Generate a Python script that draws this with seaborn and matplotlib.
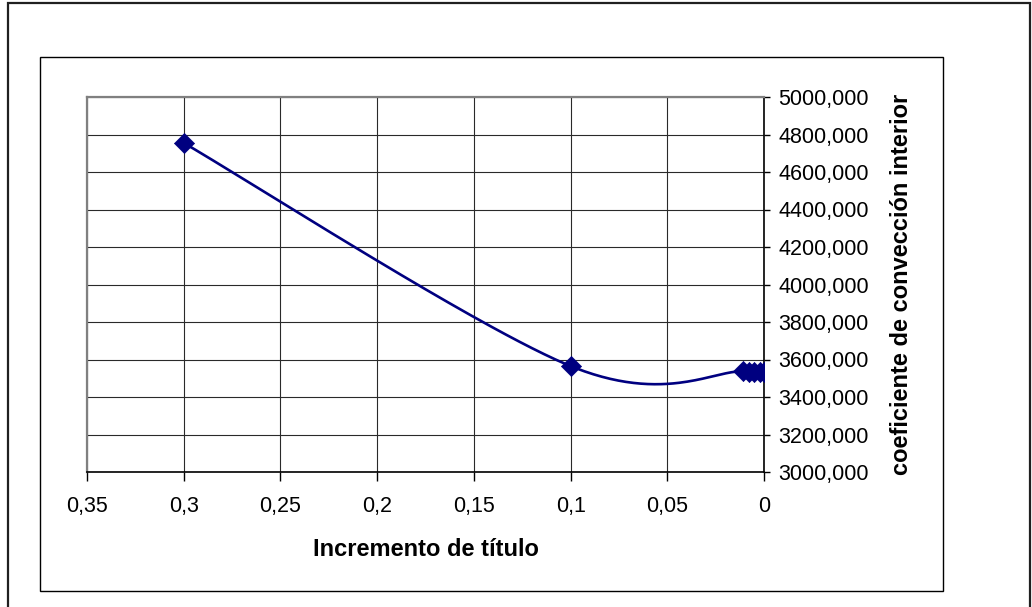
import numpy as np
import pandas as pd
import matplotlib
matplotlib.use("Agg")
import matplotlib.pyplot as plt
from matplotlib.patches import Rectangle
from matplotlib.ticker import FuncFormatter, MultipleLocator
import seaborn as sns

# Measured points: quality increment vs. inner convection coefficient
titulo = [0.3, 0.1, 0.011, 0.008, 0.005, 0.002, 0.0]
coef = [4755, 3565, 3537, 3536, 3535, 3534, 3533]

x_ticks = [0.35, 0.3, 0.25, 0.2, 0.15, 0.1, 0.05, 0.0]
y_ticks = [3000, 3200, 3400, 3600, 3800, 4000, 4200, 4400, 4600, 4800, 5000]

x_label = "Incremento de título"
y_label = "coeficiente de convección interior"

NAVY = "#000080"

sns.set_theme(style="white")
plt.rcParams["font.family"] = ["Liberation Sans", "DejaVu Sans"]


def smooth_curve(xs, ys, n=60):
    """Cubic Bezier smoothing through the points (Catmull-Rom style controls)."""
    pts = np.column_stack([xs, ys]).astype(float)
    out = []
    m = len(pts)
    for i in range(m - 1):
        p0 = pts[i - 1] if i > 0 else pts[i]
        p1 = pts[i]
        p2 = pts[i + 1]
        p3 = pts[i + 2] if i + 2 < m else pts[i + 1]
        c1 = p1 + (p2 - p0) / 6.0
        c2 = p2 - (p3 - p1) / 6.0
        t = np.linspace(0, 1, n)[:, None]
        seg = ((1 - t) ** 3) * p1 + 3 * ((1 - t) ** 2) * t * c1 \
            + 3 * (1 - t) * t ** 2 * c2 + t ** 3 * p2
        out.append(seg if i == 0 else seg[1:])
    return np.vstack(out)


W, H = 1032, 607
fig = plt.figure(figsize=(W / 100, H / 100), dpi=100)
fig.patch.set_facecolor("white")

# Chart frames
fig.add_artist(Rectangle((8 / W, 1 - 612 / H), (1030 - 8) / W, (612 - 3) / H,
                         transform=fig.transFigure, fill=False,
                         edgecolor="#202020", linewidth=1.6))
fig.add_artist(Rectangle((40 / W, 1 - 591 / H), (943 - 40) / W, (591 - 57) / H,
                         transform=fig.transFigure, fill=False,
                         edgecolor="black", linewidth=1.0))

left, right, top, bottom = 87, 764, 97, 472
ax = fig.add_axes([left / W, 1 - bottom / H, (right - left) / W, (bottom - top) / H])
ax.set_facecolor("white")

curve = smooth_curve(titulo, coef)
curve_df = pd.DataFrame({"x": curve[:, 0], "y": curve[:, 1]})
sns.lineplot(data=curve_df, x="x", y="y", sort=False, estimator=None,
             color=NAVY, linewidth=1.9, ax=ax, zorder=3)

points_df = pd.DataFrame({"titulo": titulo, "coef": coef})
sns.scatterplot(data=points_df, x="titulo", y="coef", marker="D", s=105,
                color=NAVY, edgecolor=NAVY, linewidth=0.5, ax=ax, zorder=4)

ax.set_xlim(0.35, 0.0)
ax.set_ylim(3000, 5000)
ax.xaxis.set_major_locator(MultipleLocator(0.05))
ax.yaxis.set_major_locator(MultipleLocator(200))
ax.set_xticks(x_ticks)
ax.set_yticks(y_ticks)
ax.xaxis.set_major_formatter(FuncFormatter(lambda v, p: f"{v:g}".replace(".", ",")))
ax.yaxis.set_major_formatter(FuncFormatter(lambda v, p: f"{v:.3f}".replace(".", ",")))

ax.yaxis.tick_right()
ax.yaxis.set_label_position("right")
ax.tick_params(axis="x", direction="out", length=6.5, width=1.0, color="black",
               labelsize=15.5, pad=11, labelcolor="black", bottom=True)
ax.tick_params(axis="y", direction="out", length=4.5, width=1.0, color="black",
               labelsize=15.5, pad=6, labelcolor="black", right=True, left=False)

ax.grid(True, axis="both", color="#2a2a2a", linewidth=0.8, zorder=0)
ax.set_axisbelow(True)

for side in ("top", "left"):
    ax.spines[side].set_color("#808080")
    ax.spines[side].set_linewidth(1.6)
for side in ("bottom", "right"):
    ax.spines[side].set_color("black")
    ax.spines[side].set_linewidth(1.2)
    ax.spines[side].set_visible(True)
ax.spines["top"].set_visible(True)
ax.spines["left"].set_visible(True)

ax.set_xlabel(x_label, fontsize=17, fontweight="bold", color="black")
ax.set_ylabel(y_label, fontsize=17, fontweight="bold", color="black",
              rotation=90)
ax.xaxis.set_label_coords(0.5, (bottom - 549) / (bottom - top))
ax.xaxis.label.set_va("center")
ax.yaxis.set_label_coords((901 - left) / (right - left), 0.5)
ax.yaxis.label.set_va("center")
ax.yaxis.label.set_ha("center")

fig.savefig("out.png", dpi=100, facecolor="white")
